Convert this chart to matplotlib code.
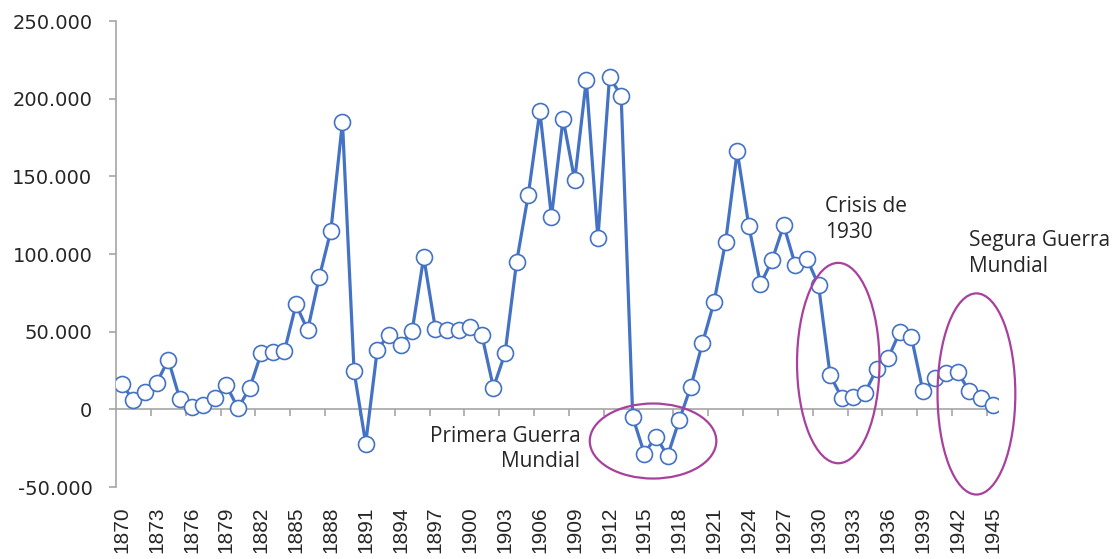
import numpy as np
import matplotlib
matplotlib.use("Agg")
import matplotlib.pyplot as plt
from matplotlib.patches import Ellipse
from matplotlib.ticker import FuncFormatter


years = list(range(1870, 1946))
values = [
    16000, 6000, 11000, 17000, 32000, 6500, 1500, 3000, 7500, 15500,
    700, 13500, 36000, 37000, 37500, 67500, 51000, 85000, 115000, 185000,
    24500, -22000, 38500, 48000, 41500, 50500, 98000, 52000, 51000, 51000,
    53000, 48000, 14000, 36000, 95000, 138000, 192000, 124000, 187000, 147500,
    212000, 110000, 214000, 202000, -5000, -28500, -17500, -30000, -7000, 14500,
    42500, 69000, 108000, 166000, 118000, 80500, 96000, 118500, 93000, 97000,
    80000, 22000, 7500, 8000, 10500, 26000, 33000, 50000, 46500, 11500,
    20000, 23500, 24000, 11500, 7500, 3000,
]
y_ticks = [-50000, 0, 50000, 100000, 150000, 200000, 250000]
label_step = 3

# annotations: text, x (category), y, alignment
notes = [
    ("Primera Guerra\nMundial", 39.5, -10500, "right"),
    ("Crisis de\n1930", 60.6, 137500, "left"),
    ("Segura Guerra\nMundial", 73.0, 115500, "left"),
]
# ellipses: centre x, centre y, width (categories), height (values)
circles = [
    (45.75, -20400, 10.9, 48300),
    (61.7, 29800, 7.1, 129000),
    (73.6, 9900, 6.7, 129500),
]

blue = "#4472C4"
purple = "#A8409E"
axis_grey = "#A6A6A6"
txt = "#262626"

x = np.arange(len(years))

fig = plt.figure(figsize=(11.18, 5.59), dpi=100)
ax = fig.add_axes([0.1038, 0.1288, 0.7893, 0.8336])

ax.plot(x, values, color=blue, lw=2.3, marker="o", ms=11.5,
        mfc="white", mec=blue, mew=1.2, zorder=3)

ax.set_xlim(-0.5, len(years) - 0.5)
ax.set_ylim(-50000, 250000)

for s in ["top", "right"]:
    ax.spines[s].set_visible(False)
ax.spines["bottom"].set_position(("data", 0))
ax.spines["bottom"].set_color(axis_grey)
ax.spines["left"].set_color(axis_grey)
ax.spines["bottom"].set_linewidth(1.2)
ax.spines["left"].set_linewidth(1.2)

# tick marks between categories, every 3rd
ax.set_xticks(np.arange(label_step - 0.5, len(years) - 0.5, label_step))
ax.tick_params(axis="x", length=5, width=1.2, color=axis_grey,
               labelbottom=False, direction="out")

ax.set_yticks(y_ticks)
ax.yaxis.set_major_formatter(
    FuncFormatter(lambda v, p: f"{v:,.0f}".replace(",", ".")))
ax.tick_params(axis="y", length=5, width=1.2, color=axis_grey,
               labelsize=14, labelcolor=txt, pad=12)

# year labels at the bottom of the plot
sec = ax.secondary_xaxis(0.0)
sec.set_xticks(x[::label_step], [str(y) for y in years[::label_step]],
               rotation=90)
sec.tick_params(length=0, pad=14, labelsize=15, labelcolor=txt)
for lab in sec.get_xticklabels():
    lab.set_family("Liberation Sans")
sec.spines["bottom"].set_visible(False)

for cx, cy, w, h in circles:
    ax.add_patch(Ellipse((cx, cy), w, h, fill=False, ec=purple, lw=1.6,
                         zorder=4, clip_on=False))

for t, tx, ty, ha in notes:
    ax.text(tx, ty, t, ha=ha, va="top", ma=ha, fontsize=15,
            family="Open Sans", color=txt, linespacing=1.3)

fig.savefig("out.png", dpi=100)
